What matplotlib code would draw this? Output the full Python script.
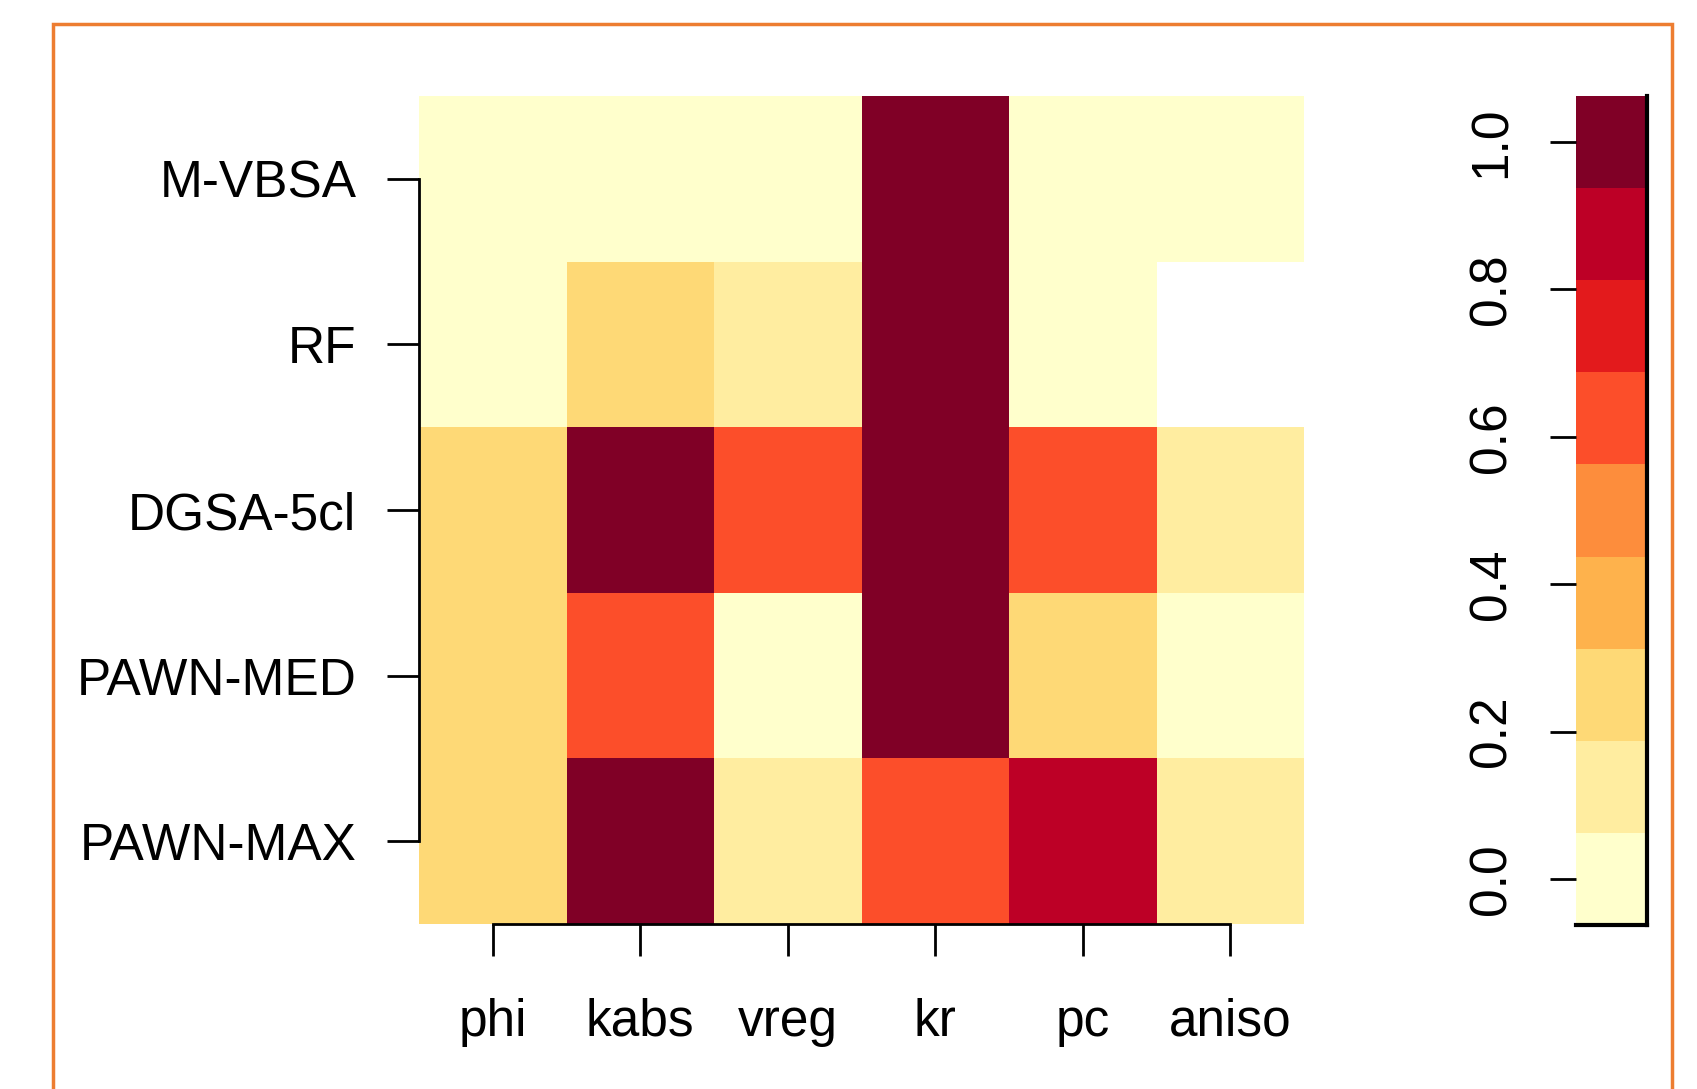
import numpy as np
import matplotlib
matplotlib.use("Agg")
import matplotlib.pyplot as plt
from matplotlib.colors import ListedColormap, BoundaryNorm
from matplotlib.patches import Rectangle
import matplotlib.cm as cm

plt.rcParams['font.family'] = ['Liberation Sans Narrow', 'Liberation Sans', 'DejaVu Sans']

# Sensitivity indices (normalised), one row per method
methods = ["M-VBSA", "RF", "DGSA-5cl", "PAWN-MED", "PAWN-MAX"]
params = ["phi", "kabs", "vreg", "kr", "pc", "aniso"]
m_vbsa   = [0.01, 0.02, 0.01, 1.00, 0.03, 0.02]
rf       = [0.03, 0.27, 0.16, 1.00, 0.02, np.nan]
dgsa_5cl = [0.26, 1.00, 0.63, 1.00, 0.62, 0.14]
pawn_med = [0.25, 0.61, 0.04, 1.00, 0.27, 0.05]
pawn_max = [0.28, 1.00, 0.15, 0.64, 0.88, 0.17]

# 9-class YlOrRd palette with bins centred on 0, 0.125, ..., 1
palette = ["#FFFFCC", "#FFEDA0", "#FED976", "#FEB24C", "#FD8D3C",
           "#FC4E2A", "#E31A1C", "#BD0026", "#800026"]
breaks = np.linspace(-0.0625, 1.0625, 10)
cbar_ticks = [0.0, 0.2, 0.4, 0.6, 0.8, 1.0]

W, H = 1697, 1089
fig = plt.figure(figsize=(W / 100, H / 100), dpi=100)

cmap = ListedColormap(palette)
cmap.set_bad("white")
norm = BoundaryNorm(breaks, cmap.N)

data = np.ma.masked_invalid(np.array([m_vbsa, rf, dgsa_5cl, pawn_med, pawn_max]))

ax = fig.add_axes([419 / W, 1 - 924 / H, 885 / W, 828 / H])
ax.pcolormesh(np.arange(len(params) + 1) - 0.5,
              np.arange(len(methods) + 1) - 0.5,
              data, cmap=cmap, norm=norm, shading="flat")
ax.set_xlim(-0.5, len(params) - 0.5)
ax.set_ylim(len(methods) - 0.5, -0.5)

ax.set_xticks(range(len(params)))
ax.set_xticklabels(params)
ax.set_yticks(range(len(methods)))
ax.set_yticklabels(methods)
for s in ["top", "right"]:
    ax.spines[s].set_visible(False)
ax.spines["bottom"].set_bounds(0, len(params) - 1)
ax.spines["left"].set_bounds(0, len(methods) - 1)
for s in ["bottom", "left"]:
    ax.spines[s].set_linewidth(2.0)
    ax.spines[s].set_zorder(5)
ax.tick_params(axis="x", direction="out", length=23, width=2.0, pad=30, labelsize=37)
ax.tick_params(axis="y", direction="out", length=23, width=2.0, pad=22, labelsize=37)

# Colour key
cax = fig.add_axes([1576 / W, 1 - 925 / H, 71 / W, 829 / H])
sm = cm.ScalarMappable(norm=norm, cmap=cmap)
cb = fig.colorbar(sm, cax=cax, boundaries=breaks, ticks=cbar_ticks, orientation="vertical")
cb.outline.set_visible(False)
cax.yaxis.set_ticks_position("left")
cax.yaxis.set_label_position("left")
cax.set_yticklabels([f"{t:.1f}" for t in cbar_ticks], rotation=90, va="center")
cax.tick_params(axis="y", direction="out", length=19, width=2.0, pad=24, labelsize=37)
cax.tick_params(axis="y", which="minor", length=0)
for s in ["right", "bottom"]:
    cax.spines[s].set_visible(True)
    cax.spines[s].set_linewidth(3.0)
    cax.spines[s].set_color("black")
for s in ["left", "top"]:
    cax.spines[s].set_visible(False)

# Frame around the whole graphic
fig.patches.append(Rectangle((53 / W, -0.05), (1672 - 53) / W, 1.05 - 24 / H,
                             transform=fig.transFigure, fill=False,
                             edgecolor="#ED7D31", linewidth=2.5))

fig.savefig("out.png", dpi=100)
